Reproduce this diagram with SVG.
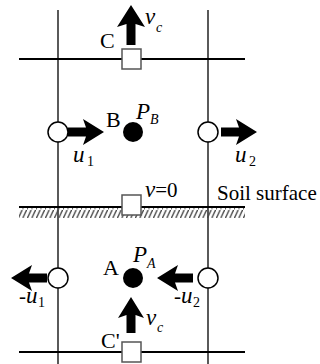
<svg xmlns="http://www.w3.org/2000/svg" xmlns:xlink="http://www.w3.org/1999/xlink" width="320" height="364" viewBox="0 0 320 364">
<style>
.grid{stroke:#000;stroke-width:1.3;fill:none}
.hline{stroke:#000;stroke-width:2;fill:none}
.sq{fill:#fff;stroke:#555;stroke-width:1.5}
.open{fill:#fff;stroke:#000;stroke-width:1.5}
.fill{fill:#000}
.arrow{fill:#000}
text{font-family:"Liberation Serif","Times New Roman",serif;fill:#000}
.t{font-size:21px}
.L{font-size:22px}
.i{font-size:23px;font-style:italic}
.s{font-size:14px}
.si{font-size:14px;font-style:italic}
</style>
<defs>
<path id="arr" d="M0,0 L-21,-13 L-18,-4.5 L-36,-4.5 L-36,4.5 L-18,4.5 L-21,13 Z"/>
<path id="arrL" d="M0,0 L-22,-14 L-19,-4.5 L-40,-4.5 L-40,4.5 L-19,4.5 L-22,14 Z"/>
<pattern id="hatch" patternUnits="userSpaceOnUse" width="4.5" height="10">
<path d="M-1,11 L5,-2" stroke="#444" stroke-width="1.3"/>
</pattern>
</defs>
<g id="connectors">
<line class="grid" x1="58" y1="10" x2="58" y2="364"/>
<line class="grid" x1="208" y1="10" x2="208" y2="364"/>
<line class="hline" x1="19" y1="59" x2="245" y2="59"/>
<line class="hline" x1="19" y1="352" x2="245" y2="352"/>
<rect x="19" y="208" width="226" height="10" fill="url(#hatch)"/>
<line class="hline" x1="19" y1="207" x2="245" y2="207"/>
</g>
<g id="nodeC">
<use href="#arrL" class="arrow" transform="translate(131,5) rotate(-90)"/>
<rect class="sq" x="122" y="49" width="19" height="20"/>
<text class="L" x="100" y="48">C</text>
<text class="i" x="145" y="24">v</text><text class="si" x="156" y="32">c</text>
</g>
<g id="nodeU1">
<circle class="open" cx="58" cy="132" r="10"/>
<use href="#arr" class="arrow" transform="translate(104,132)"/>
<text class="i" x="73" y="162">u</text><text class="s" x="87" y="166">1</text>
</g>
<g id="nodeB">
<circle class="fill" cx="133" cy="132" r="10"/>
<text class="L" x="106" y="127">B</text>
<text class="i" x="136" y="119">P</text><text class="si" x="150" y="124">B</text>
</g>
<g id="nodeU2">
<circle class="open" cx="208" cy="132" r="10"/>
<use href="#arr" class="arrow" transform="translate(257,132)"/>
<text class="i" x="235" y="162">u</text><text class="s" x="249" y="166">2</text>
</g>
<g id="nodeSurface">
<rect class="sq" x="122" y="195" width="19" height="20"/>
<text x="145" y="197"><tspan class="i">v</tspan><tspan class="t">=0</tspan></text>
<text class="t" x="217" y="200">Soil surface</text>
</g>
<g id="nodeMinusU1">
<circle class="open" cx="58" cy="278" r="10"/>
<use href="#arr" class="arrow" transform="translate(11,278) rotate(180)"/>
<text x="19" y="303"><tspan class="t">-</tspan><tspan class="i">u</tspan></text><text class="s" x="38" y="307">1</text>
</g>
<g id="nodeA">
<circle class="fill" cx="133" cy="278" r="10"/>
<text class="L" x="103" y="275">A</text>
<text class="i" x="133" y="262">P</text><text class="si" x="147" y="268">A</text>
</g>
<g id="nodeMinusU2">
<circle class="open" cx="208" cy="278" r="10"/>
<use href="#arr" class="arrow" transform="translate(157,278) rotate(180)"/>
<text x="174" y="303"><tspan class="t">-</tspan><tspan class="i">u</tspan></text><text class="s" x="193" y="307">2</text>
</g>
<g id="nodeC2">
<use href="#arr" class="arrow" transform="translate(131,297) rotate(-90)"/>
<rect class="sq" x="122" y="342" width="19" height="20"/>
<text class="L" x="101" y="348">C'</text>
<text class="i" x="146" y="325">v</text><text class="si" x="157" y="332">c</text>
</g>
</svg>
